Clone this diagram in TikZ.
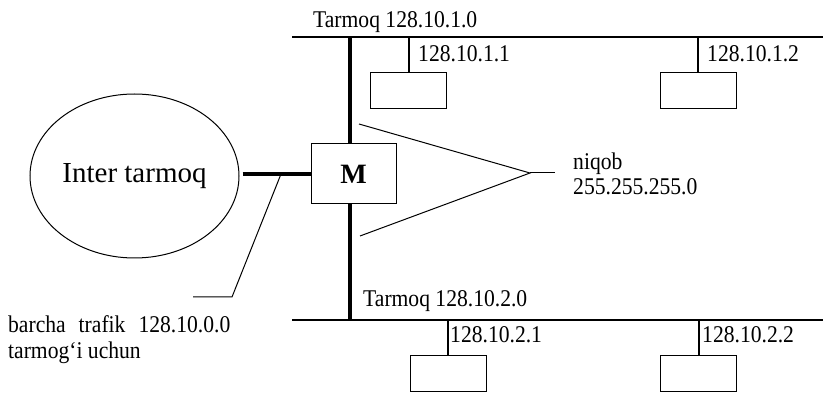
\documentclass[tikz,border=0pt]{standalone}
\usepackage{fontspec}
\setmainfont{Liberation Serif}
\newfontfamily\lblfont[FakeStretch=0.9]{Liberation Serif}
\usetikzlibrary{shapes.geometric}
\begin{document}
\begin{tikzpicture}[x=1pt,y=-1pt,
  lbl/.style={anchor=base west, inner sep=0pt, font=\lblfont\fontsize{24}{26}\selectfont},
  host/.style={draw, line width=1pt, minimum width=76pt, minimum height=36pt, inner sep=0pt},
  bus/.style={line width=2.5pt},
  trunk/.style={line width=4.5pt},
  drop/.style={line width=2pt},
  thin/.style={line width=1pt}]
\useasboundingbox (0,0) rectangle (823,395);

% nodes
\node[ellipse, draw, line width=1pt, minimum width=209pt, minimum height=164pt, inner sep=0pt,
      font=\fontsize{29}{30}\selectfont] (net) at (134.5,176) {Inter tarmoq};
\node[draw, line width=1pt, minimum width=85pt, minimum height=60pt, inner sep=0pt,
      font=\bfseries\fontsize{28}{30}\selectfont] (M) at (353.5,174) {M};
\node[host] (h11) at (408.5,91) {};
\node[host] (h12) at (698,91) {};
\node[host] (h21) at (448,374) {};
\node[host] (h22) at (698.5,374) {};

% buses
\coordinate (t0) at (292,37);
\coordinate (t1) at (823,37);
\coordinate (b0) at (292,320);
\coordinate (b1) at (823,320);
\draw[bus] (t0) -- (t1);
\draw[bus] (b0) -- (b1);

% trunk
\coordinate (tj) at (350,37);
\coordinate (bj) at (350,320);
\draw[trunk] (tj) -- (tj |- M.north);
\draw[trunk] (bj |- M.south) -- (bj);
\draw[trunk, shorten <=3pt] (net.east |- M.west) -- (M.west);

% drops
\draw[drop] (h11.north) -- (h11.north |- t0);
\draw[drop] (h12.north) -- (h12.north |- t0);
\draw[drop] (h21.north) -- (h21.north |- b0);
\draw[drop] (h22.north) -- (h22.north |- b0);

% leader
\coordinate (lj) at (281,174);
\coordinate (lk) at (232,297);
\coordinate (ll) at (193,297);
\draw[thin] (lj) -- (lk) -- (ll);

% mask triangle
\coordinate (ta) at (359,124);
\coordinate (tb) at (360,236);
\coordinate (apex) at (530,173);
\coordinate (tend) at (555,173);
\draw[thin] (ta) -- (apex) -- (tb);
\draw[thin] (apex) -- (tend);

% labels
\node[lbl] (l10) at (313,28) {Tarmoq 128.10.1.0};
\node[lbl] (l11) at (418,62) {128.10.1.1};
\node[lbl] (l12) at (707,62) {128.10.1.2};
\node[lbl] (l20) at (363,306.5) {Tarmoq 128.10.2.0};
\node[lbl] (l21) at (450,343) {128.10.2.1};
\node[lbl] (l22) at (702,343) {128.10.2.2};
\node[lbl] (mask1) at (573,170) {niqob};
\node[lbl] (mask2) at (573,194.5) {255.255.255.0};
\node[lbl] (all1) at (8,333) {barcha\hspace{13pt}trafik\hspace{13pt}128.10.0.0};
\node[lbl] (all2) at (8,359) {tarmog‘i uchun};
\end{tikzpicture}
\end{document}
